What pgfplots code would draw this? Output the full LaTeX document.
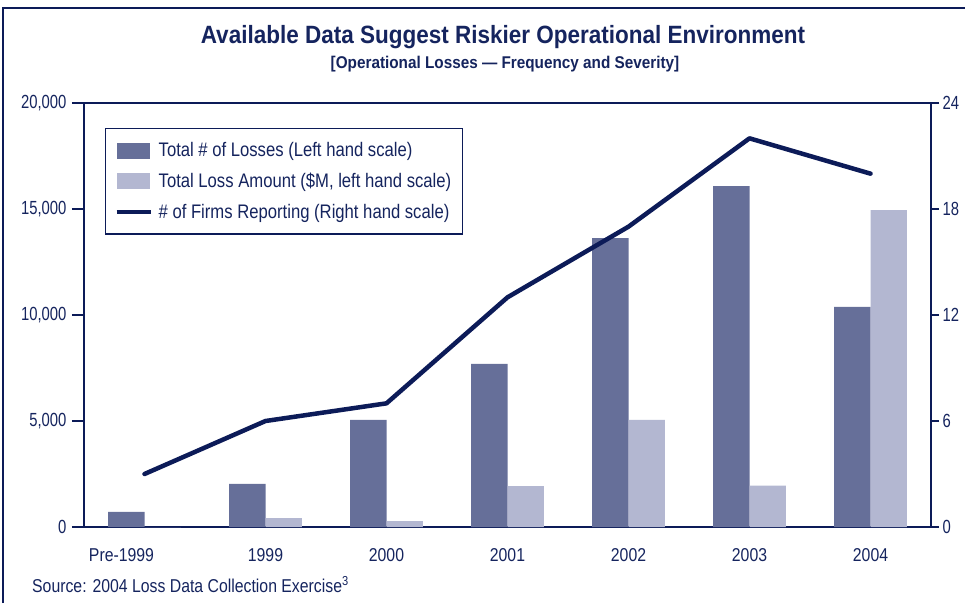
\documentclass[border=0pt]{standalone}
\usepackage{fontspec}
\setmainfont{Liberation Sans}[FakeStretch=0.85]
\newfontfamily\numfont{Liberation Sans}[FakeStretch=0.78]
\newfontfamily\titlefont{Liberation Sans}[FakeStretch=0.9]
\usepackage{pgfplots}
\pgfplotsset{compat=1.18}
\definecolor{navy}{HTML}{0C1B58}
\definecolor{bardark}{HTML}{666F99}
\definecolor{barlight}{HTML}{B3B7D1}
\definecolor{txt}{HTML}{15245E}
\begin{document}
\begin{tikzpicture}
\useasboundingbox (0pt,0pt) rectangle (965pt,603pt);
\draw[navy, line width=2pt] (3pt,0pt) -- (3pt,595pt) -- (965pt,595pt);
\node[txt, font=\titlefont\bfseries\fontsize{25}{28}\selectfont, anchor=base, inner sep=0pt] at (503pt,559pt) {Available Data Suggest Riskier Operational Environment};
\node[txt, font=\titlefont\bfseries\fontsize{17}{19}\selectfont, anchor=base, inner sep=0pt] at (505pt,534pt) {[Operational Losses — Frequency and Severity]};
\node[txt, font=\fontsize{18.6}{20}\selectfont, anchor=base west, inner sep=0pt] at (32pt,11pt) {Source: 2004 Loss Data Collection Exercise\textsuperscript{3}};
\begin{axis}[
  at={(84pt,76pt)}, anchor=south west, scale only axis,
  width=847pt, height=424pt,
  xmin=-0.5, xmax=6.5, ymin=0, ymax=20000,
  axis line style={navy, line width=1.5pt},
  xtick={0,1,2,3,4,5,6},
  xticklabels={{Pre-1999\hspace*{46pt}},1999,2000,2001,2002,2003,2004},
  minor xtick={-0.5,0.5,1.5,2.5,3.5,4.5,5.5,6.5},
  xtick pos=bottom, ytick pos=left,
  xtick style={draw=none},
  minor x tick style={navy, line width=1.2pt},
  minor tick length=8pt,
  major tick length=12pt,
  y tick style={navy, line width=1.2pt},
  tick align=outside,
  ytick={0,5000,10000,15000,20000},
  scaled y ticks=false,
  yticklabel style={/pgf/number format/1000 sep={,}, xshift=-2pt},
  /pgf/number format/assume math mode=true,
  ticklabel style={txt, font=\numfont\fontsize{19}{20}\selectfont},
  xticklabel style={yshift=-6pt, font=\fontsize{18.6}{20}\selectfont},
  legend style={at={(0.0248,0.941)}, anchor=north west, draw=navy, line width=1.3pt,
    font=\fontsize{19.6}{21}\selectfont, text=txt, inner xsep=9pt, inner ysep=12pt, row sep=11pt},
  legend cell align=left,
]
\addplot[ybar, bar width=0.3, bar shift=-0.15, fill=bardark, draw=none,
  legend image code/.code={\fill[bardark] (-4pt,-8pt) rectangle (29pt,8pt);}]
  coordinates {(0,710)(1,2030)(2,5050)(3,7690)(4,13630)(5,16080)(6,10380)};
\addlegendentry{\hspace*{4pt}Total \# of Losses (Left hand scale)}
\addplot[ybar, bar width=0.3, bar shift=0.15, fill=barlight, draw=none,
  legend image code/.code={\fill[barlight] (-4pt,-8pt) rectangle (29pt,8pt);}]
  coordinates {(0,0)(1,420)(2,280)(3,1930)(4,5050)(5,1950)(6,14950)};
\addlegendentry{\hspace*{4pt}Total Loss Amount (\$M, left hand scale)}
\addlegendimage{legend image code/.code={\draw[navy, line width=4pt] (-4pt,0pt)--(30pt,0pt);}}
\addlegendentry{\hspace*{4pt}\# of Firms Reporting (Right hand scale)}
\end{axis}
\begin{axis}[
  at={(84pt,76pt)}, anchor=south west, scale only axis,
  width=847pt, height=424pt,
  xmin=-0.5, xmax=6.5, ymin=0, ymax=24,
  axis x line=none,
  axis y line*=right,
  axis line style={-, navy, line width=1.5pt},
  ytick={0,6,12,18,24},
  major tick length=8pt,
  y tick style={navy, line width=1.2pt},
  tick align=outside,
  /pgf/number format/assume math mode=true,
  ticklabel style={txt, font=\numfont\fontsize{19}{20}\selectfont},
]
\addplot[navy, line width=4.5pt, line join=round, line cap=round]
  coordinates {(0,3)(1,6)(2,7)(3,13)(4,17)(5,22)(6,20)};
\end{axis}
\end{tikzpicture}
\end{document}
